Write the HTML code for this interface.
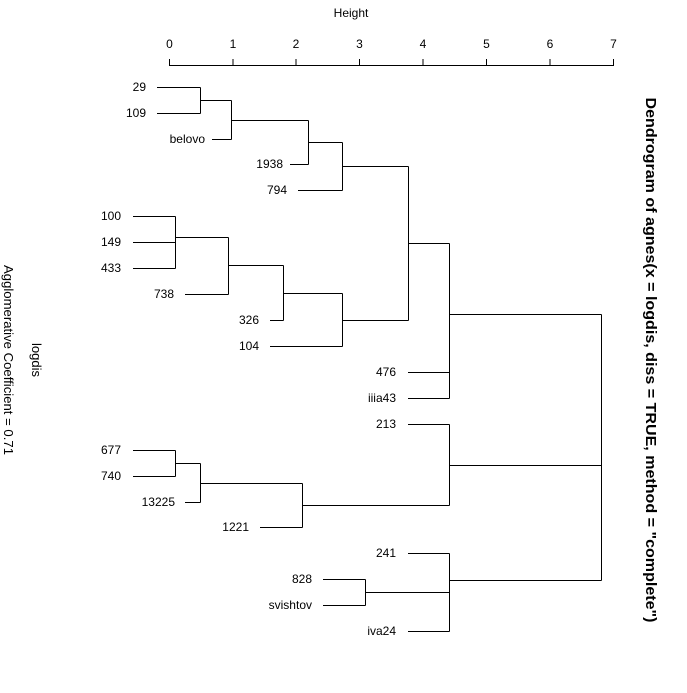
<!DOCTYPE html>
<html><head><style>body{margin:0;background:#fff}</style></head><body>
<svg width="687" height="688" xmlns="http://www.w3.org/2000/svg" font-family="Liberation Sans, sans-serif" font-size="12">
<rect width="687" height="688" fill="#fff"/>
<text x="351" y="17" text-anchor="middle">Height</text>
<g stroke="#000" fill="none" stroke-width="1">
<path d="M169.5 65.5H613.5"/>
<path d="M169.5 59V66M233 59V66M296 59V66M359.5 59V66M423 59V66M486.5 59V66M550 59V66M613.5 59V66"/>
<path d="M157 87.5H200.5M157 113.5H200.5M200.5 87.5V113.5M200.5 100.5H231.5M212 139.5H231.5M231.5 100.5V139.5M231.5 120.5H308.5M290 164.5H308.5M308.5 120.5V164.5M308.5 142.5H342.5M298 190.5H342.5M342.5 142.5V190.5M342.5 166.5H408.5"/>
<path d="M133 216.5H175.5M133 242.5H175.5M133 268.5H175.5M175.5 216.5V268.5M175.5 237.5H228.5M185 294.5H228.5M228.5 237.5V294.5M228.5 265.5H283.5M270 320.5H283.5M283.5 265.5V320.5M283.5 293.5H342.5M270 346.5H342.5M342.5 293.5V346.5M342.5 320.5H408.5M408.5 166.5V320.5M408.5 243.5H449.5"/>
<path d="M408 372.5H449.5M408 398.5H449.5M449.5 243.5V398.5M449.5 314.5H601.5"/>
<path d="M408 424.5H449.5M133 450.5H175.5M133 476.5H175.5M175.5 450.5V476.5M175.5 463.5H200.5M185 502.5H200.5M200.5 463.5V502.5M200.5 483.5H302.5M260 527.5H302.5M302.5 483.5V527.5M302.5 505.5H449.5M449.5 424.5V505.5M449.5 465.5H601.5"/>
<path d="M408 553.5H449.5M323 579.5H365.5M323 605.5H365.5M365.5 579.5V605.5M365.5 592.5H449.5M408 631.5H449.5M449.5 553.5V631.5M449.5 580.5H601.5M601.5 314.5V580.5"/>
</g>
<g text-anchor="middle">
<text x="169.5" y="48">0</text><text x="233" y="48">1</text><text x="296" y="48">2</text><text x="359.5" y="48">3</text><text x="423" y="48">4</text><text x="486.5" y="48">5</text><text x="550" y="48">6</text><text x="613.5" y="48">7</text>
</g>
<g text-anchor="end">
<text x="146" y="91">29</text><text x="146" y="117">109</text><text x="205" y="143">belovo</text><text x="283" y="168">1938</text><text x="287" y="194">794</text>
<text x="121" y="220">100</text><text x="121" y="246">149</text><text x="121" y="272">433</text><text x="174" y="298">738</text><text x="259" y="324">326</text><text x="259" y="350">104</text>
<text x="396" y="376">476</text><text x="396" y="402">iiia43</text><text x="396" y="428">213</text>
<text x="121" y="454">677</text><text x="121" y="480">740</text><text x="175" y="506">13225</text><text x="249" y="531">1221</text>
<text x="396" y="557">241</text><text x="312" y="583">828</text><text x="312" y="609">svishtov</text><text x="396" y="635">iva24</text>
</g>
<text transform="translate(646,360) rotate(90)" text-anchor="middle" font-size="15" font-weight="bold" textLength="525" lengthAdjust="spacingAndGlyphs">Dendrogram of  agnes(x = logdis, diss = TRUE, method = "complete")</text>
<text transform="translate(32,360) rotate(90)" text-anchor="middle" font-size="13">logdis</text>
<text transform="translate(4,360) rotate(90)" text-anchor="middle" font-size="13" textLength="190" lengthAdjust="spacingAndGlyphs">Agglomerative Coefficient =  0.71</text>
</svg>
</body></html>
